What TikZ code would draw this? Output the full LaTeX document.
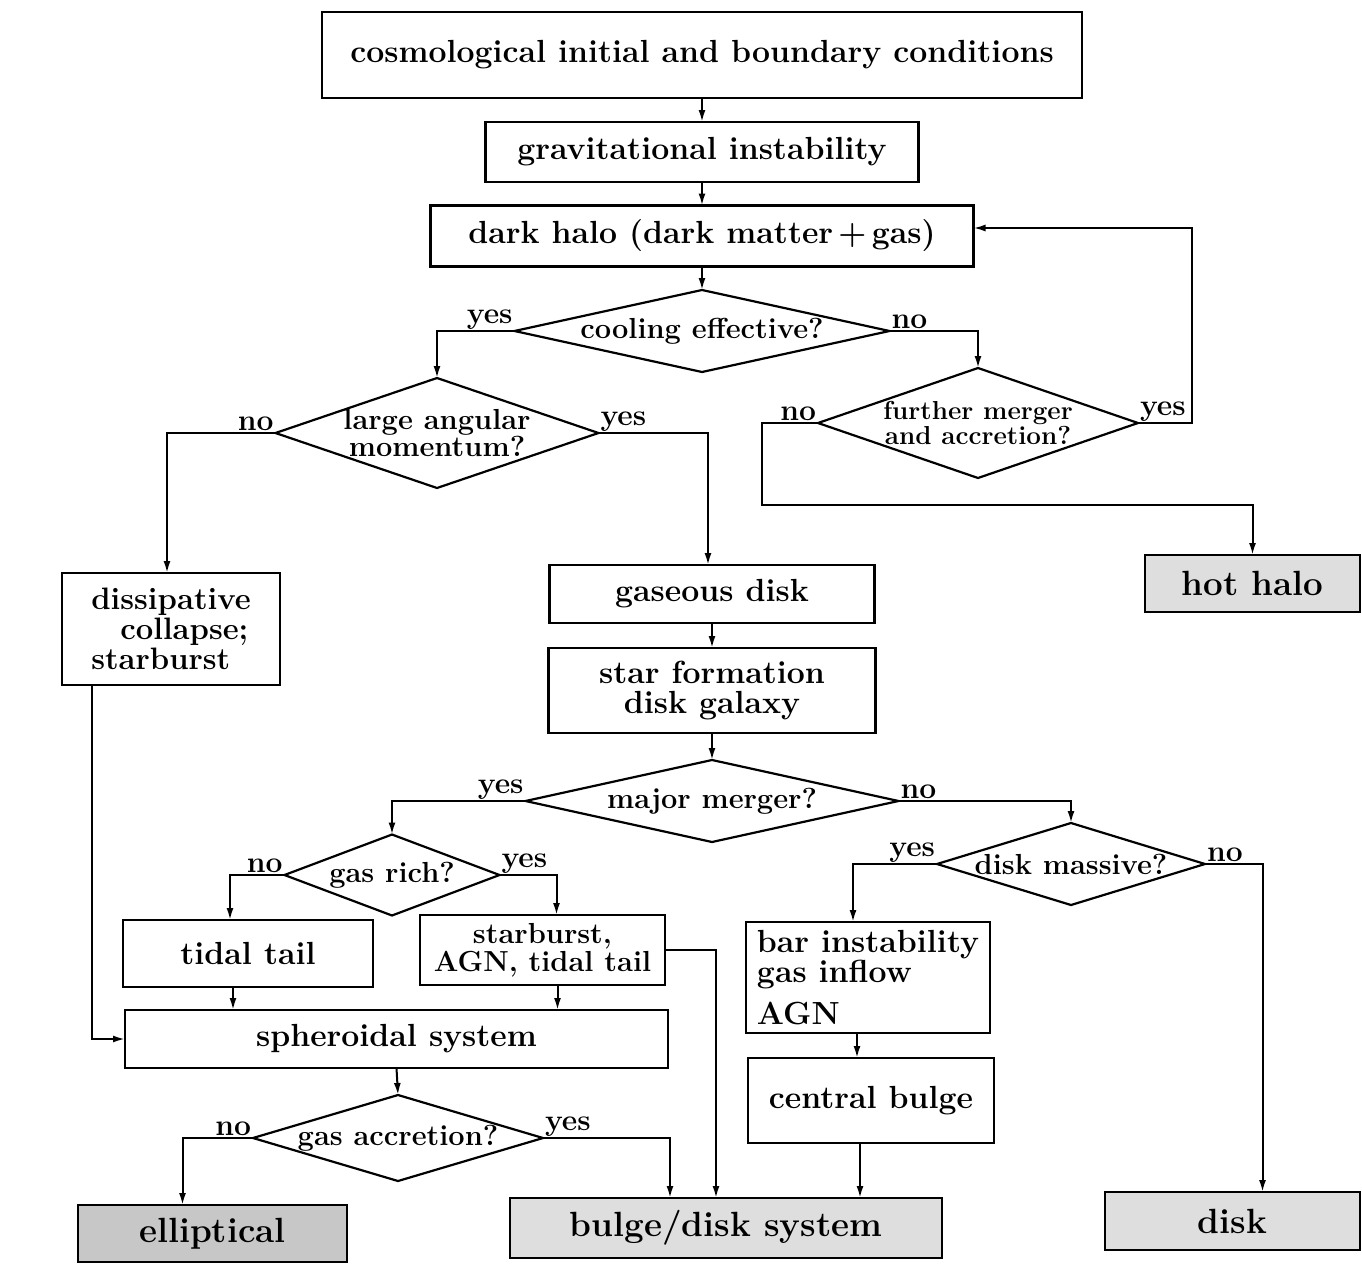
\documentclass[tikz,border=0pt]{standalone}
\usepackage{fontspec}
\usetikzlibrary{arrows.meta,shapes.geometric,calc}
\begin{document}
\begin{tikzpicture}[x=1pt,y=-1pt,
  every node/.style={inner sep=0pt, outer sep=0pt},
  box/.style={draw, line width=2.2pt, rectangle, align=center, font=\bfseries\fontsize{32}{30}\selectfont},
  term/.style={box, fill=black!13, font=\bfseries\fontsize{35}{38}\selectfont},
  dia/.style={draw, line width=2.2pt, diamond},
  dtext/.style={align=center, font=\bfseries\fontsize{29}{27}\selectfont},
  stext/.style={align=center, font=\bfseries\fontsize{26}{25}\selectfont},
  lbl/.style={font=\bfseries\fontsize{30}{30}\selectfont, inner sep=2pt},
  arr/.style={line width=2pt, -{Latex[length=12pt,width=7pt]}},
  ln/.style={line width=2pt}
]
\useasboundingbox (0,0) rectangle (1362,1282);

% boxes
\node[box, minimum width=760, minimum height=86] (cosmo) at (702,55) {cosmological initial and boundary conditions};
\node[box, minimum width=433, minimum height=60] (grav) at (702,152) {gravitational instability};
\node[box, minimum width=543, minimum height=61] (halo) at (702,236) {dark halo (dark matter\,+\,gas)};
\node[dia, minimum width=375, minimum height=82, label={[dtext]center:{cooling effective?}}] (cool) at (702,331) {};
\node[dia, minimum width=323, minimum height=110, label={[dtext]center:{large angular\\momentum?}}] (lam) at (437,433) {};
\node[dia, minimum width=320, minimum height=110, label={[stext]center:{further merger\\and accretion?}}] (fm) at (978,423) {};
\node[term, minimum width=215, minimum height=57] (hot) at (1252.5,583.5) {hot halo};
\node[box, minimum width=218, minimum height=112, align=left, font=\bfseries\fontsize{31}{30}\selectfont] (dc) at (171,629) {dissipative\\\hspace*{29pt}collapse;\\starburst};
\node[box, minimum width=325, minimum height=58] (gas) at (712,594) {gaseous disk};
\node[box, minimum width=327, minimum height=85] (sf) at (712,690.5) {star formation\\disk galaxy};
\node[dia, minimum width=373, minimum height=82, label={[dtext]center:{major merger?}}] (mm) at (712,801) {};
\node[dia, minimum width=215, minimum height=81, label={[dtext]center:{gas rich?}}] (gr) at (392,875) {};
\node[dia, minimum width=268, minimum height=82, label={[dtext]center:{disk massive?}}] (dm) at (1071,864) {};
\node[box, minimum width=250, minimum height=67] (tt) at (248,953.5) {tidal tail};
\node[box, minimum width=245, minimum height=70, font=\bfseries\fontsize{29}{28}\selectfont] (sb) at (542.5,950) {starburst,\\AGN, tidal tail};
\node[box, minimum width=244, minimum height=111, align=left] (bar) at (868,977.5) {bar instability\\gas inflow\\[12pt]AGN};
\node[box, minimum width=543, minimum height=58] (sph) at (396.5,1039) {spheroidal system};
\node[box, minimum width=246, minimum height=85] (cb) at (871,1100.5) {central bulge};
\node[dia, minimum width=290, minimum height=86, label={[dtext]center:{gas accretion?}}] (ga) at (398,1138) {};
\node[term, fill=black!22, minimum width=269, minimum height=57] (ell) at (212.5,1233.5) {elliptical};
\node[term, minimum width=432, minimum height=60] (bd) at (726,1228) {bulge/disk system};
\node[term, minimum width=255, minimum height=58] (disk) at (1232.5,1221) {disk};

% connectors
\draw[arr] (cosmo.south) -- (grav.north);
\draw[arr] (grav.south) -- (halo.north);
\draw[arr] (halo.south) -- (cool.north);
\draw[arr] (cool.west) node[lbl, anchor=south east] (l1) {yes} -| (lam.north);
\draw[arr] (cool.east) node[lbl, anchor=south west] (l2) {no} -| (fm.north);
\draw[arr] (fm.east) node[lbl, anchor=south west] (l3) {yes} -- ++(54,0) |- ([yshift=8]halo.east);
\draw[arr] (fm.west) node[lbl, anchor=south east] (l4) {no} -- ++(-56,0) -- ++(0,82) -| (hot.north);
\draw[arr] (lam.west) node[lbl, anchor=south east] (l5) {no} -| ([xshift=-4]dc.north);
\draw[arr] (lam.east) node[lbl, anchor=south west] (l6) {yes} -| ([xshift=-4]gas.north);
\draw[arr] (gas.south) -- (sf.north);
\draw[arr] (sf.south) -- (mm.north);
\draw[arr] (mm.west) node[lbl, anchor=south east] (l7) {yes} -| (gr.north);
\draw[arr] (mm.east) node[lbl, anchor=south west] (l8) {no} -| (dm.north);
\draw[arr] (gr.west) node[lbl, anchor=south east] (l9) {no} -| ([xshift=-18]tt.north);
\draw[arr] (gr.east) node[lbl, anchor=south west] (l10) {yes} -| ([xshift=14]sb.north);
\draw[arr] (dm.west) node[lbl, anchor=south east] (l11) {yes} -| ([xshift=-15]bar.north);
\draw[arr] (dm.east) node[lbl, anchor=south west] (l12) {no} -| ([xshift=30]disk.north);
\draw[arr] ([xshift=-15]tt.south) -- ([xshift=-15]tt.south |- sph.north);
\draw[arr] ([xshift=15]sb.south) -- ([xshift=15]sb.south |- sph.north);
\draw[arr] (sb.east) -| ([xshift=-10]bd.north);
\draw[arr] ([xshift=-79]dc.south) |- (sph.west);
\draw[arr] ([xshift=-11]bar.south) -- ([xshift=-11]bar.south |- cb.north);
\draw[arr] ([xshift=-11]cb.south) -- ([xshift=-11]cb.south |- bd.north);
\draw[arr] (sph.south) -- (ga.north);
\draw[arr] (ga.west) node[lbl, anchor=south east] (l13) {no} -| ([xshift=-30]ell.north);
\draw[arr] (ga.east) node[lbl, anchor=south west] (l14) {yes} -| ([xshift=-56]bd.north);
\end{tikzpicture}
\end{document}
